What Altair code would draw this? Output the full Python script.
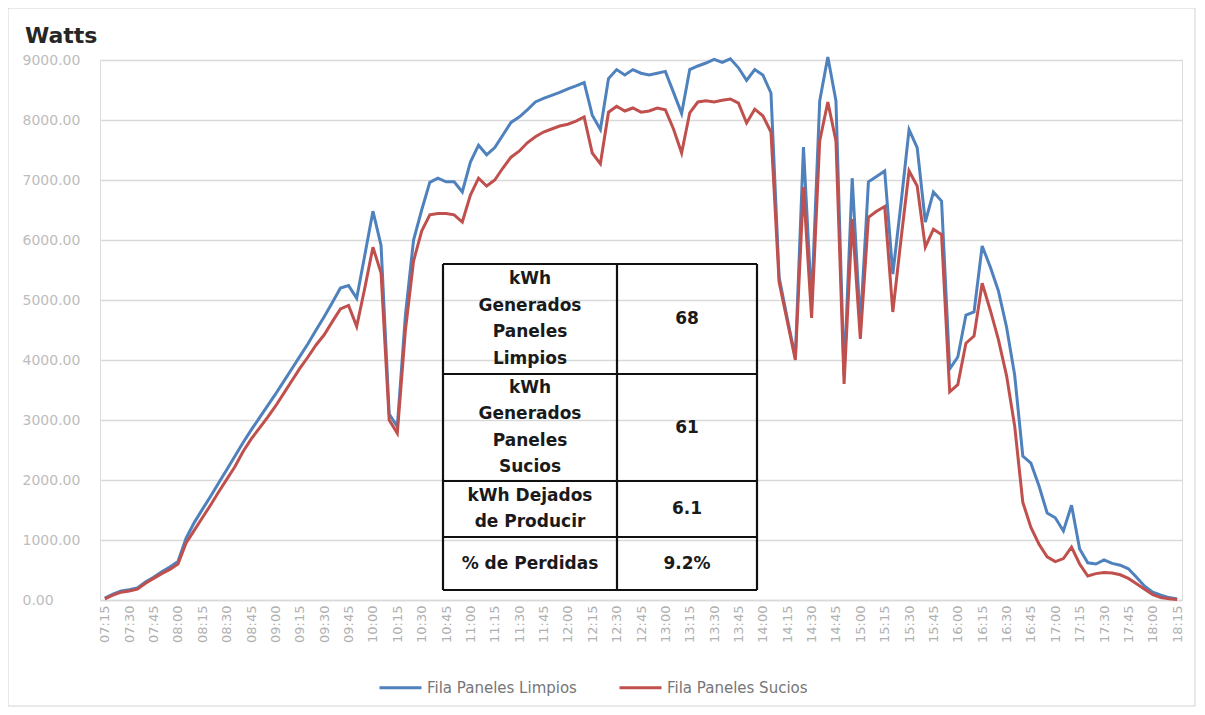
import altair as alt
import pandas as pd

# ---------------- data ----------------
# 5-minute readings from 07:15 to 18:15
times = [f"{(435 + 5 * i) // 60:02d}:{(435 + 5 * i) % 60:02d}" for i in range(133)]
tick_labels = times[::3]

limpios = [
    30, 100, 150, 170, 200, 300, 380, 470, 550, 640,
    1030, 1290, 1510, 1725, 1950, 2170, 2395, 2620, 2830, 3030,
    3230, 3430, 3640, 3850, 4060, 4270, 4500, 4720, 4960, 5200,
    5240, 5030, 5750, 6480, 5910, 3100, 2890, 4750, 6000, 6500,
    6960, 7030, 6970, 6970, 6800, 7300, 7580, 7420, 7540, 7750,
    7960, 8050, 8170, 8300, 8360, 8410, 8460, 8520, 8570, 8625,
    8080, 7840, 8690, 8840, 8750, 8840, 8780, 8750, 8780, 8810,
    8460, 8110, 8840, 8900, 8950, 9010, 8960, 9020, 8870, 8660,
    8840, 8750, 8450, 5380, 4700, 4040, 7550, 4950, 8320, 9050,
    8320, 3740, 7030, 4580, 6970, 7060, 7150, 5430, 6600, 7840,
    7540, 6300, 6800, 6650, 3850, 4050, 4750, 4800, 5900, 5550,
    5150, 4550, 3750, 2400, 2280, 1900, 1450, 1370, 1150, 1580,
    850, 620, 600, 670, 610, 580, 520, 380, 230, 130,
    80, 40, 15,
]

sucios = [
    20, 80, 130, 150, 180, 280, 360, 440, 510, 600,
    950, 1160, 1370, 1580, 1800, 2010, 2220, 2470, 2680, 2860,
    3040, 3230, 3440, 3650, 3860, 4050, 4250, 4420, 4640, 4850,
    4910, 4560, 5200, 5880, 5450, 3000, 2780, 4500, 5650, 6150,
    6420, 6440, 6440, 6420, 6300, 6750, 7030, 6900, 7000, 7200,
    7380, 7480, 7620, 7720, 7800, 7850, 7900, 7930, 7980, 8050,
    7450, 7270, 8130, 8230, 8150, 8200, 8130, 8150, 8200, 8170,
    7850, 7450, 8120, 8300, 8320, 8300, 8330, 8350, 8280, 7950,
    8180, 8070, 7800, 5300, 4650, 4000, 6880, 4700, 7650, 8300,
    7650, 3600, 6350, 4350, 6380, 6480, 6560, 4800, 6000, 7150,
    6900, 5880, 6180, 6090, 3470, 3590, 4280, 4400, 5280, 4830,
    4340, 3740, 2900, 1630, 1210, 930, 720, 640, 690, 880,
    600, 400, 440, 460, 450, 420, 360, 270, 180, 90,
    40, 20, 10,
]

series_names = ["Fila Paneles Limpios", "Fila Paneles Sucios"]
series_colors = ["#4f81bd", "#c0504d"]
y_ticks = [0, 1000, 2000, 3000, 4000, 5000, 6000, 7000, 8000, 9000]

table_labels = [
    ["kWh", "Generados", "Paneles", "Limpios"],
    ["kWh", "Generados", "Paneles", "Sucios"],
    ["kWh Dejados", "de Producir"],
    ["% de Perdidas"],
]
table_values = ["68", "61", "6.1", "9.2%"]
title_text = "Watts"

# ---------------- layout (pixels, relative to plot origin) ----------------
W, H = 1082, 540
tbl_cols = [343, 517, 657]
tbl_rows = [204, 314, 421, 477, 530]
line_gap = 26.5

# ---------------- frames ----------------
df = pd.DataFrame({
    "time": times + times,
    "series": [series_names[0]] * len(limpios) + [series_names[1]] * len(sucios),
    "watts": limpios + sucios,
})

lines = alt.Chart(df).mark_line(strokeWidth=3).encode(
    x=alt.X(
        "time:O",
        sort=times,
        scale=alt.Scale(type="point", padding=0.6),
        axis=alt.Axis(
            values=tick_labels, labelAngle=270, title=None, ticks=False,
            labelFontSize=13, labelColor="#b0b0b0", labelPadding=5,
            domainColor="#d9d9d9", domainWidth=1.5, grid=False,
        ),
    ),
    y=alt.Y(
        "watts:Q",
        scale=alt.Scale(domain=[0, 9000], nice=False),
        axis=alt.Axis(
            values=y_ticks, format=".2f", title=None, ticks=False, domain=False,
            labelAlign="left", labelPadding=78, labelFontSize=14,
            labelColor="#bdbdbd", gridColor="#d9d9d9", gridWidth=1.5,
        ),
    ),
    color=alt.Color(
        "series:N",
        scale=alt.Scale(domain=series_names, range=series_colors),
        legend=alt.Legend(
            title=None, orient="none", legendX=278, legendY=605,
            direction="horizontal", symbolType="stroke", symbolSize=1764,
            symbolStrokeWidth=3, labelFontSize=15, labelColor="#767676",
            columnPadding=36, labelOffset=4,
        ),
    ),
)

# table grid lines
rule_rows = []
for yv in tbl_rows:
    rule_rows.append({"x": tbl_cols[0], "x2": tbl_cols[-1], "y": yv, "y2": yv})
for xv in tbl_cols:
    rule_rows.append({"x": xv, "x2": xv, "y": tbl_rows[0], "y2": tbl_rows[-1]})
rules = alt.Chart(pd.DataFrame(rule_rows)).mark_rule(color="#111111", strokeWidth=2.2).encode(
    x=alt.X("x:Q", scale=None), x2="x2:Q",
    y=alt.Y("y:Q", scale=None), y2="y2:Q",
)

# table text
text_rows = []
for r, labels in enumerate(table_labels):
    center = (tbl_rows[r] + tbl_rows[r + 1]) / 2
    n = len(labels)
    for k, lab in enumerate(labels):
        text_rows.append({"x": (tbl_cols[0] + tbl_cols[1]) / 2,
                          "y": center + (k - (n - 1) / 2) * line_gap, "t": lab})
    text_rows.append({"x": (tbl_cols[1] + tbl_cols[2]) / 2, "y": center, "t": table_values[r]})
texts = alt.Chart(pd.DataFrame(text_rows)).mark_text(
    fontSize=17, fontWeight="bold", color="#1a1a1a", baseline="middle", align="center",
    font="DejaVu Sans",
).encode(x=alt.X("x:Q", scale=None), y=alt.Y("y:Q", scale=None), text="t:N")

watts = alt.Chart(pd.DataFrame({"t": [title_text]})).mark_text(
    fontSize=22, fontWeight="bold", color="#262626", align="left", baseline="alphabetic",
    font="DejaVu Sans",
).encode(x=alt.value(-75), y=alt.value(-17), text="t:N")

frame = alt.Chart(pd.DataFrame({"a": [0]})).mark_rect(
    fill=None, stroke="#d4d4d4", strokeWidth=1
).encode(x=alt.value(-92), x2=alt.value(1095), y=alt.value(-52), y2=alt.value(646))

chart = alt.layer(frame, lines, rules, texts, watts).resolve_scale(
    x="independent", y="independent"
).properties(
    width=W, height=H,
    padding={"left": 92, "top": 52, "right": 15, "bottom": 108},
    autosize=alt.AutoSizeParams(type="none"),
).configure_view(stroke=None).configure(font="DejaVu Sans")

chart.save("out.html", embed_options={"renderer": "svg", "actions": False})
